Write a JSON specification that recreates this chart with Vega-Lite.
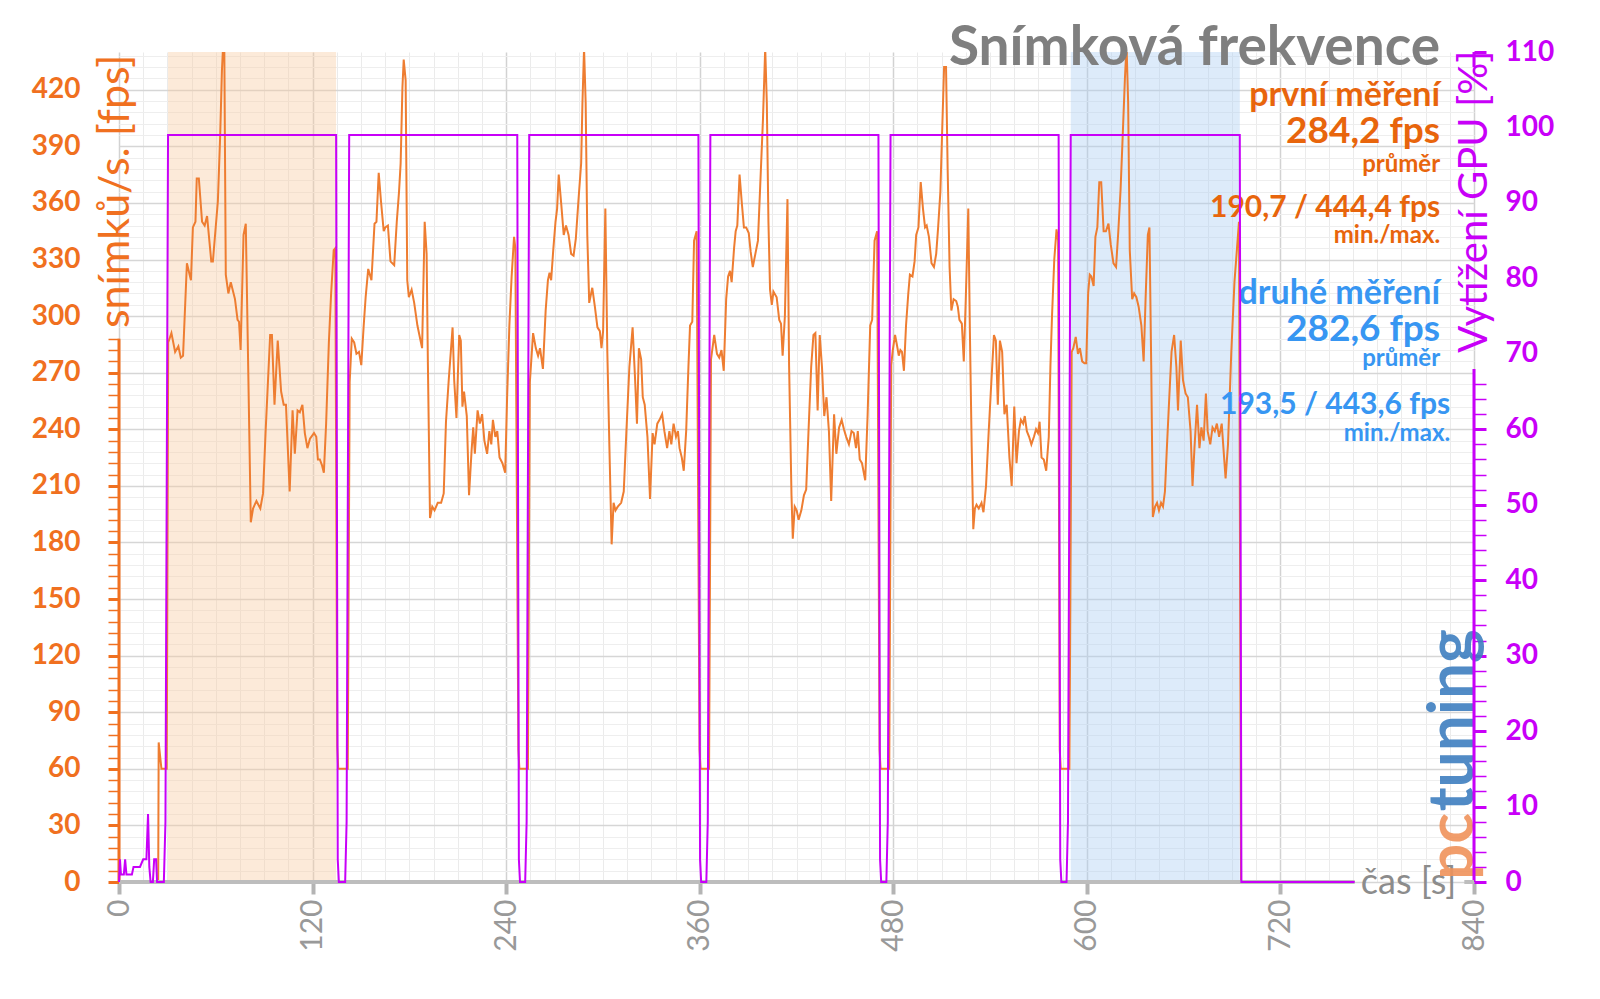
{
  "$schema": "https://vega.github.io/schema/vega-lite/v6.json",
  "width": 1355,
  "height": 830,
  "autosize": {"type": "none"},
  "padding": {"left": 119, "top": 52, "right": 126, "bottom": 117},
  "background": "white",
  "config": {"view": {"stroke": null}, "font": "Lato", "text": {"font": "Lato"}},
  "datasets": {
    "bands": [
      {"t": 30.4, "t2": 134.6, "mereni": "první měření"},
      {"t": 590.0, "t2": 694.8, "mereni": "druhé měření"}
    ],
    "fps": [
      {"t":0,"fps":0},{"t":24.3,"fps":0},{"t":24.6,"fps":74},{"t":26.3,"fps":60},{"t":29.6,"fps":60},
      {"t":30.5,"fps":286},{"t":32.5,"fps":291},{"t":34.8,"fps":281},{"t":36.8,"fps":284},{"t":38.3,"fps":278},{"t":39.7,"fps":279},{"t":42.1,"fps":328},{"t":44.6,"fps":319},{"t":45.8,"fps":347},{"t":47.4,"fps":350},{"t":48.2,"fps":373},{"t":49.5,"fps":373},{"t":51.5,"fps":350},{"t":53.1,"fps":348},{"t":54.6,"fps":353},{"t":57.2,"fps":329},{"t":58.2,"fps":329},{"t":61.3,"fps":361},{"t":62.7,"fps":395},{"t":63.8,"fps":430},{"t":64.6,"fps":444.4},{"t":65.3,"fps":440},{"t":66.2,"fps":322},{"t":67.8,"fps":312},{"t":69.3,"fps":318},{"t":71.9,"fps":309},{"t":73.5,"fps":298},{"t":74.4,"fps":297},{"t":75.4,"fps":282},{"t":77.2,"fps":343},{"t":78.6,"fps":349},{"t":81.7,"fps":190.7},{"t":83.1,"fps":198},{"t":85.2,"fps":202},{"t":87.6,"fps":198},{"t":89.3,"fps":206},{"t":90.9,"fps":239},{"t":93.7,"fps":290},{"t":94.8,"fps":290},{"t":96.4,"fps":253},{"t":98.4,"fps":287},{"t":100.5,"fps":260},{"t":102.1,"fps":253},{"t":103.5,"fps":253},{"t":105.8,"fps":207},{"t":107.6,"fps":250},{"t":109.0,"fps":227},{"t":110.7,"fps":250},{"t":112.1,"fps":249},{"t":113.7,"fps":253},{"t":115.2,"fps":238},{"t":116.8,"fps":230},{"t":118.4,"fps":235},{"t":120.9,"fps":238},{"t":122.3,"fps":236},{"t":123.3,"fps":224},{"t":124.5,"fps":224},{"t":125.8,"fps":221},{"t":127.0,"fps":217},{"t":128.4,"fps":243},{"t":130.1,"fps":286},{"t":131.5,"fps":312},{"t":133.1,"fps":335},{"t":134.1,"fps":336},
      {"t":135.3,"fps":72},{"t":135.9,"fps":60},{"t":141.8,"fps":60},
      {"t":143.0,"fps":265},{"t":144.3,"fps":288},{"t":145.8,"fps":286},{"t":147.2,"fps":280},{"t":148.8,"fps":281},{"t":150.2,"fps":274},{"t":151.7,"fps":295},{"t":152.9,"fps":310},{"t":154.5,"fps":325},{"t":156.5,"fps":319},{"t":158.4,"fps":349},{"t":159.6,"fps":350},{"t":161.0,"fps":376},{"t":162.4,"fps":361},{"t":164.1,"fps":345},{"t":165.1,"fps":347},{"t":166.7,"fps":348},{"t":168.3,"fps":329},{"t":170.6,"fps":327},{"t":172.2,"fps":350},{"t":173.6,"fps":366},{"t":174.6,"fps":381},{"t":175.7,"fps":421},{"t":176.5,"fps":436},{"t":177.7,"fps":425},{"t":178.7,"fps":319},{"t":179.7,"fps":310},{"t":181.4,"fps":314},{"t":183.0,"fps":307},{"t":185.0,"fps":295},{"t":186.7,"fps":288},{"t":187.9,"fps":283},{"t":189.5,"fps":350},{"t":190.7,"fps":333},{"t":191.5,"fps":274},{"t":192.8,"fps":193},{"t":194.2,"fps":199},{"t":195.6,"fps":197},{"t":197.6,"fps":201},{"t":199.7,"fps":201},{"t":201.3,"fps":206},{"t":202.7,"fps":244},{"t":204.4,"fps":266},{"t":206.8,"fps":294},{"t":207.8,"fps":266},{"t":209.2,"fps":246},{"t":210.9,"fps":290},{"t":211.9,"fps":287},{"t":212.9,"fps":252},{"t":213.9,"fps":260},{"t":215.6,"fps":247},{"t":217.0,"fps":205},{"t":218.6,"fps":229},{"t":219.6,"fps":241},{"t":220.6,"fps":227},{"t":222.3,"fps":250},{"t":223.7,"fps":243},{"t":225.1,"fps":248},{"t":226.5,"fps":234},{"t":228.2,"fps":227},{"t":229.6,"fps":239},{"t":230.8,"fps":232},{"t":231.8,"fps":245},{"t":233.3,"fps":236},{"t":234.5,"fps":239},{"t":235.9,"fps":225},{"t":237.7,"fps":222},{"t":239.4,"fps":217},{"t":240.6,"fps":257},{"t":242.0,"fps":295},{"t":243.4,"fps":321},{"t":244.9,"fps":342},{"t":245.7,"fps":336},
      {"t":247.6,"fps":70},{"t":248.2,"fps":60},{"t":253.5,"fps":60},
      {"t":254.7,"fps":265},{"t":256.7,"fps":291},{"t":258.4,"fps":283},{"t":259.8,"fps":279},{"t":261.0,"fps":283},{"t":262.8,"fps":272},{"t":264.5,"fps":303},{"t":265.9,"fps":319},{"t":266.9,"fps":323},{"t":267.9,"fps":319},{"t":269.2,"fps":335},{"t":270.6,"fps":350},{"t":271.6,"fps":357},{"t":272.6,"fps":375},{"t":274.2,"fps":359},{"t":275.7,"fps":343},{"t":277.1,"fps":348},{"t":278.7,"fps":343},{"t":280.3,"fps":333},{"t":281.8,"fps":332},{"t":283.2,"fps":341},{"t":284.8,"fps":361},{"t":286.5,"fps":381},{"t":287.3,"fps":413},{"t":288.3,"fps":442},{"t":289.3,"fps":413},{"t":290.3,"fps":343},{"t":291.5,"fps":307},{"t":293.4,"fps":315},{"t":295.0,"fps":305},{"t":296.6,"fps":294},{"t":298.1,"fps":292},{"t":299.1,"fps":283},{"t":300.1,"fps":292},{"t":301.5,"fps":357},{"t":302.7,"fps":282},{"t":304.0,"fps":231},{"t":305.4,"fps":179},{"t":306.6,"fps":201},{"t":307.8,"fps":197},{"t":309.2,"fps":199},{"t":311.3,"fps":201},{"t":312.9,"fps":207},{"t":314.5,"fps":238},{"t":316.4,"fps":273},{"t":318.4,"fps":294},{"t":319.8,"fps":269},{"t":321.1,"fps":243},{"t":322.3,"fps":283},{"t":323.7,"fps":277},{"t":324.7,"fps":257},{"t":325.9,"fps":253},{"t":327.6,"fps":236},{"t":329.2,"fps":203},{"t":330.8,"fps":238},{"t":332.0,"fps":232},{"t":333.7,"fps":243},{"t":335.1,"fps":245},{"t":336.7,"fps":248},{"t":338.1,"fps":239},{"t":339.8,"fps":230},{"t":341.2,"fps":239},{"t":342.4,"fps":232},{"t":343.8,"fps":243},{"t":345.3,"fps":236},{"t":346.5,"fps":239},{"t":347.5,"fps":230},{"t":348.9,"fps":225},{"t":350.1,"fps":218},{"t":351.6,"fps":239},{"t":353.0,"fps":273},{"t":354.0,"fps":295},{"t":355.4,"fps":297},{"t":356.5,"fps":340},{"t":358.1,"fps":345},
      {"t":359.9,"fps":70},{"t":360.5,"fps":60},{"t":365.8,"fps":60},
      {"t":367.0,"fps":277},{"t":369.0,"fps":290},{"t":370.7,"fps":280},{"t":372.1,"fps":278},{"t":373.5,"fps":282},{"t":374.9,"fps":271},{"t":376.4,"fps":309},{"t":377.6,"fps":321},{"t":378.8,"fps":324},{"t":379.8,"fps":318},{"t":381.3,"fps":336},{"t":382.3,"fps":345},{"t":383.3,"fps":348},{"t":384.7,"fps":375},{"t":386.0,"fps":361},{"t":387.4,"fps":347},{"t":388.8,"fps":347},{"t":390.4,"fps":344},{"t":391.6,"fps":334},{"t":392.9,"fps":326},{"t":394.5,"fps":333},{"t":396.1,"fps":340},{"t":397.5,"fps":369},{"t":399.2,"fps":404},{"t":400.6,"fps":442},{"t":401.6,"fps":413},{"t":402.6,"fps":350},{"t":403.6,"fps":314},{"t":404.7,"fps":306},{"t":405.7,"fps":313},{"t":407.7,"fps":310},{"t":409.3,"fps":298},{"t":410.4,"fps":296},{"t":411.4,"fps":279},{"t":412.8,"fps":300},{"t":414.4,"fps":362},{"t":415.4,"fps":274},{"t":416.9,"fps":205},{"t":417.7,"fps":182},{"t":418.9,"fps":199},{"t":420.1,"fps":197},{"t":421.3,"fps":192},{"t":423.0,"fps":197},{"t":424.6,"fps":205},{"t":426.0,"fps":208},{"t":427.4,"fps":238},{"t":429.1,"fps":273},{"t":430.5,"fps":290},{"t":431.7,"fps":291},{"t":433.1,"fps":250},{"t":434.4,"fps":290},{"t":435.8,"fps":273},{"t":437.2,"fps":247},{"t":438.6,"fps":257},{"t":440.1,"fps":239},{"t":441.5,"fps":202},{"t":443.3,"fps":248},{"t":444.7,"fps":227},{"t":446.4,"fps":241},{"t":448.0,"fps":245},{"t":449.4,"fps":240},{"t":450.8,"fps":236},{"t":452.5,"fps":232},{"t":454.1,"fps":239},{"t":455.5,"fps":238},{"t":456.9,"fps":230},{"t":458.0,"fps":239},{"t":459.2,"fps":224},{"t":460.6,"fps":222},{"t":462.6,"fps":213},{"t":464.1,"fps":248},{"t":465.7,"fps":295},{"t":466.9,"fps":298},{"t":468.4,"fps":340},{"t":470.0,"fps":345},
      {"t":471.5,"fps":70},{"t":472.1,"fps":60},{"t":477.5,"fps":60},
      {"t":478.7,"fps":274},{"t":479.7,"fps":282},{"t":481.1,"fps":290},{"t":482.4,"fps":284},{"t":483.4,"fps":279},{"t":484.4,"fps":282},{"t":485.4,"fps":281},{"t":486.6,"fps":271},{"t":487.9,"fps":295},{"t":489.3,"fps":312},{"t":490.3,"fps":322},{"t":491.9,"fps":321},{"t":493.2,"fps":329},{"t":494.2,"fps":343},{"t":495.6,"fps":347},{"t":497.0,"fps":371},{"t":498.4,"fps":357},{"t":499.7,"fps":347},{"t":500.7,"fps":348},{"t":502.1,"fps":342},{"t":503.7,"fps":328},{"t":505.2,"fps":326},{"t":506.6,"fps":333},{"t":507.8,"fps":347},{"t":509.2,"fps":366},{"t":510.5,"fps":404},{"t":511.5,"fps":432},{"t":512.7,"fps":432},{"t":513.7,"fps":378},{"t":514.9,"fps":326},{"t":516.0,"fps":303},{"t":517.4,"fps":309},{"t":519.0,"fps":308},{"t":520.0,"fps":305},{"t":521.0,"fps":298},{"t":522.5,"fps":296},{"t":523.7,"fps":276},{"t":524.9,"fps":308},{"t":526.5,"fps":357},{"t":527.5,"fps":291},{"t":528.6,"fps":231},{"t":529.6,"fps":187},{"t":530.6,"fps":198},{"t":531.6,"fps":200},{"t":533.0,"fps":198},{"t":534.7,"fps":201},{"t":535.9,"fps":196},{"t":537.5,"fps":210},{"t":539.1,"fps":238},{"t":540.4,"fps":259},{"t":542.4,"fps":290},{"t":543.6,"fps":287},{"t":544.8,"fps":253},{"t":546.1,"fps":287},{"t":547.5,"fps":281},{"t":548.9,"fps":248},{"t":550.3,"fps":253},{"t":552.0,"fps":225},{"t":553.4,"fps":210},{"t":555.0,"fps":252},{"t":556.4,"fps":222},{"t":557.9,"fps":239},{"t":559.1,"fps":245},{"t":560.5,"fps":243},{"t":561.5,"fps":247},{"t":562.8,"fps":239},{"t":564.2,"fps":236},{"t":565.6,"fps":232},{"t":567.2,"fps":236},{"t":568.5,"fps":240},{"t":569.7,"fps":238},{"t":570.7,"fps":244},{"t":571.9,"fps":225},{"t":573.3,"fps":224},{"t":574.8,"fps":218},{"t":576.4,"fps":236},{"t":577.4,"fps":273},{"t":578.4,"fps":300},{"t":579.8,"fps":330},{"t":581.2,"fps":346},{"t":582.2,"fps":340},
      {"t":583.2,"fps":70},{"t":583.8,"fps":60},{"t":589.2,"fps":60},
      {"t":590.6,"fps":281},{"t":591.6,"fps":283},{"t":593.1,"fps":289},{"t":594.5,"fps":280},{"t":595.7,"fps":283},{"t":597.1,"fps":276},{"t":598.5,"fps":275},{"t":599.6,"fps":275},{"t":600.8,"fps":312},{"t":601.8,"fps":322},{"t":602.8,"fps":321},{"t":604.2,"fps":316},{"t":605.3,"fps":342},{"t":606.5,"fps":347},{"t":607.7,"fps":371},{"t":608.9,"fps":371},{"t":610.4,"fps":345},{"t":611.8,"fps":345},{"t":613.4,"fps":349},{"t":614.8,"fps":338},{"t":616.5,"fps":328},{"t":618.1,"fps":326},{"t":619.5,"fps":345},{"t":620.9,"fps":367},{"t":622.2,"fps":395},{"t":623.6,"fps":426},{"t":624.6,"fps":443.6},{"t":625.6,"fps":413},{"t":626.6,"fps":335},{"t":628.1,"fps":309},{"t":629.3,"fps":312},{"t":630.7,"fps":310},{"t":632.1,"fps":305},{"t":633.8,"fps":295},{"t":635.2,"fps":276},{"t":636.4,"fps":309},{"t":637.8,"fps":343},{"t":638.8,"fps":347},{"t":639.9,"fps":274},{"t":640.9,"fps":193.5},{"t":642.3,"fps":199},{"t":643.5,"fps":201},{"t":644.7,"fps":197},{"t":646.0,"fps":201},{"t":647.2,"fps":199},{"t":648.4,"fps":207},{"t":649.6,"fps":230},{"t":651.1,"fps":257},{"t":652.5,"fps":281},{"t":654.1,"fps":290},{"t":655.5,"fps":273},{"t":656.5,"fps":250},{"t":658.2,"fps":287},{"t":659.6,"fps":266},{"t":661.2,"fps":259},{"t":662.6,"fps":257},{"t":664.3,"fps":239},{"t":665.5,"fps":210},{"t":666.7,"fps":230},{"t":668.3,"fps":253},{"t":669.8,"fps":230},{"t":671.0,"fps":241},{"t":672.4,"fps":234},{"t":673.8,"fps":259},{"t":674.9,"fps":239},{"t":676.5,"fps":232},{"t":677.9,"fps":241},{"t":679.3,"fps":239},{"t":680.6,"fps":243},{"t":682.0,"fps":236},{"t":683.6,"fps":243},{"t":685.0,"fps":226},{"t":686.0,"fps":214},{"t":687.5,"fps":232},{"t":689.5,"fps":280},{"t":691.5,"fps":318},{"t":693.0,"fps":335},{"t":694.3,"fps":350},
      {"t":695.6,"fps":0},{"t":766,"fps":0}
    ],
    "gpu": [
      {"t":0,"gpu":0},{"t":0.6,"gpu":3},{"t":1.2,"gpu":1},{"t":3,"gpu":1},{"t":3.8,"gpu":3},{"t":4.6,"gpu":1},{"t":8,"gpu":1},{"t":9,"gpu":2},{"t":13,"gpu":2},{"t":15,"gpu":3},{"t":17,"gpu":3},{"t":18,"gpu":9},{"t":18.8,"gpu":2},{"t":19.6,"gpu":0},{"t":21,"gpu":0},{"t":21.8,"gpu":3},{"t":23,"gpu":3},{"t":23.6,"gpu":0},{"t":27.8,"gpu":0},{"t":28.8,"gpu":8},{"t":30.4,"gpu":99},
      {"t":134.6,"gpu":99},{"t":135.6,"gpu":3},{"t":136.3,"gpu":0},{"t":140.2,"gpu":0},{"t":141.1,"gpu":8},{"t":142.7,"gpu":99},
      {"t":246.9,"gpu":99},{"t":247.9,"gpu":3},{"t":248.6,"gpu":0},{"t":251.8,"gpu":0},{"t":252.7,"gpu":8},{"t":254.3,"gpu":99},
      {"t":359.2,"gpu":99},{"t":360.2,"gpu":3},{"t":360.9,"gpu":0},{"t":364.1,"gpu":0},{"t":365.0,"gpu":8},{"t":366.6,"gpu":99},
      {"t":470.8,"gpu":99},{"t":471.8,"gpu":3},{"t":472.5,"gpu":0},{"t":475.7,"gpu":0},{"t":476.6,"gpu":8},{"t":478.3,"gpu":99},
      {"t":582.5,"gpu":99},{"t":583.5,"gpu":3},{"t":584.2,"gpu":0},{"t":587.4,"gpu":0},{"t":588.3,"gpu":8},{"t":590.0,"gpu":99},
      {"t":694.8,"gpu":99},{"t":695.8,"gpu":0},{"t":766,"gpu":0}
    ]
  },
  "resolve": {"scale": {"y": "independent"}, "axis": {"x": "independent"}},
  "layer": [
    {
      "data": {"name": "bands"},
      "mark": {"type": "rect", "fillOpacity": 0.4},
      "encoding": {
        "x": {"field": "t", "type": "quantitative", "scale": {"domain": [0, 840]}, "axis": null},
        "x2": {"field": "t2"},
        "color": {"field": "mereni", "type": "nominal", "scale": {"domain": ["první měření", "druhé měření"], "range": ["#f8caa0", "#aacdf2"]}, "legend": null}
      }
    },
    {
      "data": {"values": [{}]},
      "mark": {"type": "text", "text": "pc", "angle": 270, "align": "left", "baseline": "alphabetic", "font": "Lato", "fontWeight": "bold", "fontSize": 64, "color": "#f0935b", "opacity": 0.9},
      "encoding": {
        "x": {"datum": 839.5, "scale": {"domain": [0, 840]}, "axis": null},
        "y": {"datum": 1, "scale": {"domain": [0, 440]}, "axis": null}
      }
    },
    {
      "data": {"values": [{}]},
      "mark": {"type": "text", "text": "tuning", "angle": 270, "align": "left", "baseline": "alphabetic", "font": "Lato", "fontWeight": "bold", "fontSize": 64, "color": "#3f7fc0", "opacity": 0.9},
      "encoding": {
        "x": {"datum": 839.5, "scale": {"domain": [0, 840]}, "axis": null},
        "y": {"datum": 37.5, "scale": {"domain": [0, 440]}, "axis": null}
      }
    },
    {
      "data": {"name": "fps"},
      "mark": {"type": "line", "color": "#ee7d31", "strokeWidth": 2, "clip": true},
      "encoding": {
        "x": {
          "field": "t", "type": "quantitative", "scale": {"domain": [0, 840]},
          "axis": {
            "orient": "bottom",
            "values": [0,15,30,45,60,75,90,105,120,135,150,165,180,195,210,225,240,255,270,285,300,315,330,345,360,375,390,405,420,435,450,465,480,495,510,525,540,555,570,585,600,615,630,645,660,675,690,705,720,735,750,765,780,795,810,825,840],
            "grid": true,
            "gridColor": {"condition": {"test": "datum.value % 120 === 0", "value": "#d2d2d2"}, "value": "#ebebeb"},
            "gridWidth": {"condition": {"test": "datum.value % 120 === 0", "value": 1.5}, "value": 1},
            "domain": false,
            "ticks": true,
            "tickColor": "#b4b4b4",
            "tickWidth": 4,
            "tickSize": 12,
            "tickOpacity": {"condition": {"test": "datum.value % 120 === 0", "value": 1}, "value": 0},
            "labelExpr": "datum.value % 120 === 0 ? datum.label : ''",
            "labelAngle": 270,
            "labelAlign": "right",
            "labelBaseline": "middle",
            "labelFont": "Lato",
            "labelFontSize": 30,
            "labelColor": "#999999",
            "labelPadding": 5,
            "labelOverlap": false,
            "labelFlush": false,
            "labelBound": false,
            "title": "čas [s]",
            "titleX": 1289,
            "titleY": 0,
            "titleAngle": 0,
            "titleAlign": "center",
            "titleBaseline": "middle",
            "titleFont": "Lato",
            "titleFontSize": 36,
            "titleFontWeight": "normal",
            "titleColor": "#8c8c8c"
          }
        },
        "y": {
          "field": "fps", "type": "quantitative", "scale": {"domain": [0, 440]},
          "axis": {
            "orient": "left",
            "values": [0,6,12,18,24,30,36,42,48,54,60,66,72,78,84,90,96,102,108,114,120,126,132,138,144,150,156,162,168,174,180,186,192,198,204,210,216,222,228,234,240,246,252,258,264,270,276,282,288,294,300,306,312,318,324,330,336,342,348,354,360,366,372,378,384,390,396,402,408,414,420,426,432,438],
            "grid": true,
            "gridColor": {"condition": {"test": "datum.value % 30 === 0", "value": "#d6d6d6"}, "value": "#eeeeee"},
            "gridWidth": {"condition": {"test": "datum.value % 30 === 0", "value": 1.5}, "value": 1},
            "domain": false,
            "tickColor": "#f07020",
            "tickSize": 11,
            "tickWidth": {"condition": {"test": "datum.value % 30 === 0", "value": 3}, "value": 1.5},
            "tickOpacity": {"condition": {"test": "datum.value <= 288", "value": 1}, "value": 0},
            "labelExpr": "datum.value % 30 === 0 ? datum.label : ''",
            "labelFont": "Lato",
            "labelFontWeight": "bold",
            "labelFontSize": 28,
            "labelColor": "#f07020",
            "labelPadding": 28,
            "labelOverlap": false,
            "labelFlush": false,
            "labelBound": false,
            "title": "snímků/s. [fps]",
            "titleAngle": 270,
            "titleX": -4,
            "titleY": 2,
            "titleAlign": "right",
            "titleBaseline": "middle",
            "titleFont": "Lato",
            "titleFontSize": 43,
            "titleFontWeight": "normal",
            "titleColor": "#f07020"
          }
        }
      }
    },
    {
      "data": {"values": [{}]},
      "mark": {"type": "rule", "color": "#f07020", "strokeWidth": 3},
      "encoding": {
        "x": {"datum": 0, "scale": {"domain": [0, 840]}, "axis": null},
        "y": {"datum": 0, "scale": {"domain": [0, 440]}, "axis": null},
        "y2": {"datum": 288}
      }
    },
    {
      "data": {"values": [{}]},
      "mark": {"type": "rule", "color": "#c800f8", "strokeWidth": 3},
      "encoding": {
        "x": {"datum": 840, "scale": {"domain": [0, 840]}, "axis": null},
        "y": {"datum": 0, "scale": {"domain": [0, 440]}, "axis": null},
        "y2": {"datum": 272}
      }
    },
    {
      "data": {"values": [{}]},
      "mark": {"type": "rule", "color": "#c800f8", "strokeWidth": 3},
      "encoding": {
        "x": {"datum": 840, "scale": {"domain": [0, 840]}, "axis": null},
        "y": {"datum": 432, "scale": {"domain": [0, 440]}, "axis": null},
        "y2": {"datum": 440}
      }
    },
    {
      "data": {"values": [{}]},
      "mark": {"type": "rule", "color": "#bdbdbd", "strokeWidth": 4},
      "encoding": {
        "x": {"datum": 0, "scale": {"domain": [0, 840]}, "axis": null},
        "x2": {"datum": 766},
        "y": {"datum": 0, "scale": {"domain": [0, 440]}, "axis": null}
      }
    },
    {
      "data": {"values": [{}]},
      "mark": {"type": "rule", "color": "#bdbdbd", "strokeWidth": 4},
      "encoding": {
        "x": {"datum": 834, "scale": {"domain": [0, 840]}, "axis": null},
        "x2": {"datum": 840},
        "y": {"datum": 0, "scale": {"domain": [0, 440]}, "axis": null}
      }
    },
    {"data": {"values": [{}]}, "mark": {"type": "text", "text": "Snímková frekvence", "align": "right", "baseline": "alphabetic", "font": "Lato", "fontWeight": "bold", "fontSize": 55, "color": "#7f7f7f"},
     "encoding": {"x": {"datum": 819, "scale": {"domain": [0, 840]}, "axis": null}, "y": {"datum": 433.2, "scale": {"domain": [0, 440]}, "axis": null}}},
    {"data": {"values": [{}]}, "mark": {"type": "text", "text": "první měření", "align": "right", "baseline": "alphabetic", "font": "Lato", "fontWeight": "bold", "fontSize": 34, "color": "#e8650c"},
     "encoding": {"x": {"datum": 819, "scale": {"domain": [0, 840]}, "axis": null}, "y": {"datum": 411.4, "scale": {"domain": [0, 440]}, "axis": null}}},
    {"data": {"values": [{}]}, "mark": {"type": "text", "text": "284,2 fps", "align": "right", "baseline": "alphabetic", "font": "Lato", "fontWeight": "bold", "fontSize": 37, "color": "#e8650c"},
     "encoding": {"x": {"datum": 819, "scale": {"domain": [0, 840]}, "axis": null}, "y": {"datum": 391.8, "scale": {"domain": [0, 440]}, "axis": null}}},
    {"data": {"values": [{}]}, "mark": {"type": "text", "text": "průměr", "align": "right", "baseline": "alphabetic", "font": "Lato", "fontWeight": "bold", "fontSize": 24, "color": "#e8650c"},
     "encoding": {"x": {"datum": 819, "scale": {"domain": [0, 840]}, "axis": null}, "y": {"datum": 376.5, "scale": {"domain": [0, 440]}, "axis": null}}},
    {"data": {"values": [{}]}, "mark": {"type": "text", "text": "190,7 / 444,4 fps", "align": "right", "baseline": "alphabetic", "font": "Lato", "fontWeight": "bold", "fontSize": 30, "color": "#e8650c"},
     "encoding": {"x": {"datum": 819, "scale": {"domain": [0, 840]}, "axis": null}, "y": {"datum": 352.6, "scale": {"domain": [0, 440]}, "axis": null}}},
    {"data": {"values": [{}]}, "mark": {"type": "text", "text": "min./max.", "align": "right", "baseline": "alphabetic", "font": "Lato", "fontWeight": "bold", "fontSize": 24, "color": "#e8650c"},
     "encoding": {"x": {"datum": 819, "scale": {"domain": [0, 840]}, "axis": null}, "y": {"datum": 338.6, "scale": {"domain": [0, 440]}, "axis": null}}},
    {"data": {"values": [{}]}, "mark": {"type": "text", "text": "druhé měření", "align": "right", "baseline": "alphabetic", "font": "Lato", "fontWeight": "bold", "fontSize": 34, "color": "#3796f2"},
     "encoding": {"x": {"datum": 819, "scale": {"domain": [0, 840]}, "axis": null}, "y": {"datum": 306.4, "scale": {"domain": [0, 440]}, "axis": null}}},
    {"data": {"values": [{}]}, "mark": {"type": "text", "text": "282,6 fps", "align": "right", "baseline": "alphabetic", "font": "Lato", "fontWeight": "bold", "fontSize": 37, "color": "#3796f2"},
     "encoding": {"x": {"datum": 819, "scale": {"domain": [0, 840]}, "axis": null}, "y": {"datum": 286.8, "scale": {"domain": [0, 440]}, "axis": null}}},
    {"data": {"values": [{}]}, "mark": {"type": "text", "text": "průměr", "align": "right", "baseline": "alphabetic", "font": "Lato", "fontWeight": "bold", "fontSize": 24, "color": "#3796f2"},
     "encoding": {"x": {"datum": 819, "scale": {"domain": [0, 840]}, "axis": null}, "y": {"datum": 273.4, "scale": {"domain": [0, 440]}, "axis": null}}},
    {"data": {"values": [{}]}, "mark": {"type": "text", "text": "193,5 / 443,6 fps", "align": "right", "baseline": "alphabetic", "font": "Lato", "fontWeight": "bold", "fontSize": 30, "color": "#3796f2"},
     "encoding": {"x": {"datum": 825.2, "scale": {"domain": [0, 840]}, "axis": null}, "y": {"datum": 248.1, "scale": {"domain": [0, 440]}, "axis": null}}},
    {"data": {"values": [{}]}, "mark": {"type": "text", "text": "min./max.", "align": "right", "baseline": "alphabetic", "font": "Lato", "fontWeight": "bold", "fontSize": 24, "color": "#3796f2"},
     "encoding": {"x": {"datum": 825.2, "scale": {"domain": [0, 840]}, "axis": null}, "y": {"datum": 233.6, "scale": {"domain": [0, 440]}, "axis": null}}},
    {
      "data": {"name": "gpu"},
      "mark": {"type": "line", "color": "#c800f8", "strokeWidth": 2},
      "encoding": {
        "x": {"field": "t", "type": "quantitative", "scale": {"domain": [0, 840]}, "axis": null},
        "y": {
          "field": "gpu", "type": "quantitative", "scale": {"domain": [0, 110]},
          "axis": {
            "orient": "right",
            "values": [0,2,4,6,8,10,12,14,16,18,20,22,24,26,28,30,32,34,36,38,40,42,44,46,48,50,52,54,56,58,60,62,64,66,68,70,72,74,76,78,80,82,84,86,88,90,92,94,96,98,100,102,104,106,108,110],
            "grid": false,
            "domain": false,
            "tickColor": "#c800f8",
            "tickSize": 12,
            "tickWidth": {"condition": {"test": "datum.value % 10 === 0", "value": 3}, "value": 1.5},
            "tickOpacity": {"condition": {"test": "datum.value <= 66 || datum.value >= 110", "value": 1}, "value": 0},
            "labelExpr": "datum.value % 10 === 0 ? datum.label : ''",
            "labelFont": "Lato",
            "labelFontWeight": "bold",
            "labelFontSize": 28,
            "labelColor": "#c800f8",
            "labelPadding": 19,
            "labelOverlap": false,
            "labelFlush": false,
            "labelBound": false,
            "title": "Vytížení GPU [%]",
            "titleAngle": 270,
            "titleX": 0,
            "titleY": -2,
            "titleAlign": "right",
            "titleBaseline": "middle",
            "titleFont": "Lato",
            "titleFontSize": 40,
            "titleFontWeight": "normal",
            "titleColor": "#c800f8"
          }
        }
      }
    }
  ]
}
